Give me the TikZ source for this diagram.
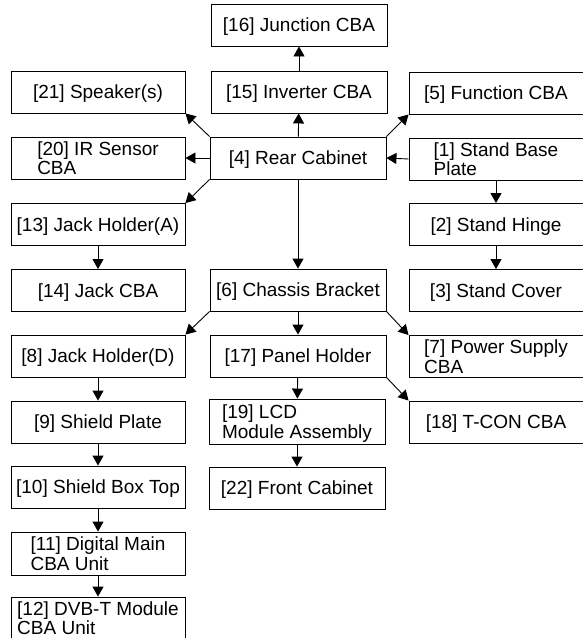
\documentclass[tikz,border=0pt]{standalone}
\usepackage{fontspec}
\setmainfont{Liberation Sans}
\usetikzlibrary{arrows.meta}
\begin{document}
\begin{tikzpicture}[x=1pt,y=-1pt,
  box/.style={draw, line width=0.9pt, inner sep=0pt, minimum height=42pt, align=left,
    text depth=0pt, font=\fontsize{19}{19.5}\selectfont},
  lbox/.style={box, minimum width=174pt},
  mbox/.style={box, minimum width=176pt},
  rbox/.style={box, minimum width=174pt},
  conn/.style={line width=0.9pt, -{Triangle[length=10pt,width=11pt]}}]
\useasboundingbox (0,0) rectangle (582,638);
% middle column
\node[mbox] (n16) at (299,25) {[16] Junction CBA};
\node[mbox] (n15) at (299,92) {[15] Inverter CBA};
\node[mbox] (n4) at (298,158) {[4] Rear Cabinet};
\node[mbox] (n6) at (298,290) {[6] Chassis Bracket};
\node[mbox] (n17) at (298,356) {[17] Panel Holder};
\node[mbox, minimum height=45pt] (n19) at (297,421.5) {[19] LCD\\Module Assembly};
\node[mbox] (n22) at (297,488) {[22] Front Cabinet};
% left column
\node[lbox] (n21) at (98,92) {[21] Speaker(s)};
\node[lbox] (n20) at (98,158) {[20] IR Sensor\\CBA};
\node[lbox] (n13) at (98,224.5) {[13] Jack Holder(A)};
\node[lbox] (n14) at (98,290.5) {[14] Jack CBA};
\node[lbox] (n8) at (98,356) {[8] Jack Holder(D)};
\node[lbox] (n9) at (98,422) {[9] Shield Plate};
\node[lbox] (n10) at (98,487) {[10] Shield Box Top};
\node[lbox, minimum height=43pt] (n11) at (98,553.5) {[11] Digital Main\\CBA Unit};
\node[lbox] (n12) at (98,618) {[12] DVB-T Module\\CBA Unit};
% right column
\node[rbox] (n5) at (496,93) {[5] Function CBA};
\node[rbox] (n1) at (496,159) {[1] Stand Base\\Plate};
\node[rbox] (n2) at (496,224.5) {[2] Stand Hinge};
\node[rbox] (n3) at (496,290.5) {[3] Stand Cover};
\node[rbox] (n7) at (496,356.5) {[7] Power Supply\\CBA};
\node[rbox] (n18) at (496,422) {[18] T-CON CBA};
% connectors
\draw[conn] (n4) -- (n15);
\draw[conn] (n15) -- (n16);
\draw[conn] (n4.north west) -- (n21.south east);
\draw[conn] (n4.west) -- (n20.east);
\draw[conn] (n4.south west) -- (n13.north east);
\draw[conn] (n4.north east) -- (n5.south west);
\draw[conn] (n1.west) -- (n4.east);
\draw[conn] (n1) -- (n2);
\draw[conn] (n2) -- (n3);
\draw[conn] (n4) -- (n6);
\draw[conn] (n13) -- (n14);
\draw[conn] (n6.south west) -- (n8.north east);
\draw[conn] (n6) -- (n17);
\draw[conn] (n6.south east) -- (n7.north west);
\draw[conn] (n8) -- (n9);
\draw[conn] (n9) -- (n10);
\draw[conn] (n10) -- (n11);
\draw[conn] (n11) -- (n12);
\draw[conn] (n17) -- (n19);
\draw[conn] (n19) -- (n22);
\draw[conn] (n17.south east) -- (n18.north west);
\end{tikzpicture}
\end{document}
